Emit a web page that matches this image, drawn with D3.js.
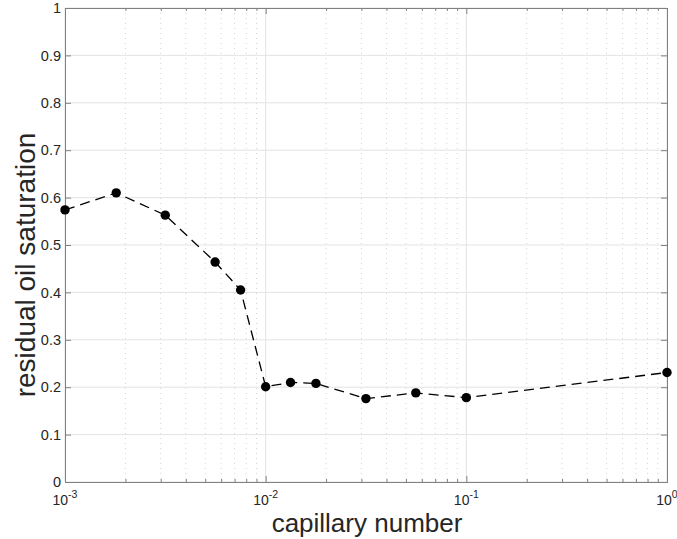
<!DOCTYPE html>
<html><head><meta charset="utf-8">
<script src="https://cdn.jsdelivr.net/npm/d3@7"></script>
<style>body{margin:0;background:#fff;} text{font-family:"Liberation Sans",Arial,Helvetica,sans-serif;}</style>
</head><body>
<svg id="c" width="677" height="539"></svg>
<script>
const capillary = [0.001, 0.0018, 0.00316, 0.0056, 0.0075, 0.01, 0.0133, 0.0178, 0.0316, 0.056, 0.1, 1];
const residualOil = [0.574, 0.610, 0.563, 0.464, 0.405, 0.201, 0.210, 0.208, 0.176, 0.188, 0.178, 0.231];
const yTicks = [0, 0.1, 0.2, 0.3, 0.4, 0.5, 0.6, 0.7, 0.8, 0.9, 1];
const xMajor = [-3, -2, -1, 0];
const xLabel = "capillary number";
const yLabel = "residual oil saturation";

const L = 65, R = 667, T = 8, B = 482;
const svg = d3.select("#c");
const x = d3.scaleLog().domain([1e-3, 1]).range([L, R]);
const y = d3.scaleLinear().domain([0, 1]).range([B, T]);

const minor = [];
for (let e = -3; e < 0; e++) for (let k = 2; k <= 9; k++) minor.push(k * Math.pow(10, e));
const major = xMajor.map(e => Math.pow(10, e));

const g = svg.append("g");
g.selectAll(".ming").data(minor).enter().append("line")
  .attr("x1", d => x(d)).attr("x2", d => x(d)).attr("y1", T).attr("y2", B)
  .attr("stroke", "#d4d4d4").attr("stroke-width", 1).attr("stroke-dasharray", "1,4");
g.selectAll(".majg").data(major).enter().append("line")
  .attr("x1", d => x(d)).attr("x2", d => x(d)).attr("y1", T).attr("y2", B)
  .attr("stroke", "#e3e3e3").attr("stroke-width", 1);
g.selectAll(".yg").data(yTicks).enter().append("line")
  .attr("x1", L).attr("x2", R).attr("y1", d => y(d)).attr("y2", d => y(d))
  .attr("stroke", "#e3e3e3").attr("stroke-width", 1);

const ax = "#808080";
function style(sel){ sel.select(".domain").attr("stroke", ax); sel.selectAll(".tick line").attr("stroke", ax); }
function mk(axisFn, vals, size, tr){
  const s = svg.append("g").attr("transform", tr)
    .call(axisFn.tickValues(vals).tickSize(size).tickSizeOuter(0).tickFormat(""));
  style(s); return s;
}
mk(d3.axisBottom(x), major, -6, `translate(0,${B})`);
mk(d3.axisBottom(x), minor, -3, `translate(0,${B})`);
mk(d3.axisTop(x), major, -6, `translate(0,${T})`);
mk(d3.axisTop(x), minor, -3, `translate(0,${T})`);
mk(d3.axisRight(y), yTicks, -6, `translate(${R},0)`);
const left = svg.append("g").attr("transform", `translate(${L},0)`)
  .call(d3.axisLeft(y).tickValues(yTicks).tickSize(-6).tickSizeOuter(0).tickPadding(4).tickFormat(d3.format("")));
style(left);
left.selectAll("text").attr("font-size", 14.5).attr("fill", "#262626").attr("font-family", "Liberation Sans, Arial, sans-serif");

const xl = svg.append("g");
xMajor.forEach(e => {
  const t = xl.append("text").attr("x", x(Math.pow(10, e))).attr("y", 505)
    .attr("text-anchor", "middle").attr("font-size", 14).attr("fill", "#262626");
  t.append("tspan").text("10");
  t.append("tspan").attr("dy", -7).attr("font-size", 10.5).text(String(e));
});

const line = d3.line().x((d, i) => x(capillary[i])).y(d => y(d));
svg.append("path").datum(residualOil).attr("d", line)
  .attr("fill", "none").attr("stroke", "#000").attr("stroke-width", 1.3).attr("stroke-dasharray", "10,6");
svg.selectAll(".pt").data(residualOil).enter().append("circle")
  .attr("cx", (d, i) => x(capillary[i])).attr("cy", d => y(d)).attr("r", 4.7).attr("fill", "#000");

svg.append("text").attr("x", 367).attr("y", 532).attr("text-anchor", "middle")
  .attr("font-size", 26).attr("fill", "#262626").text(xLabel);
svg.append("text").attr("transform", `translate(35,${265}) rotate(-90)`).attr("text-anchor", "middle")
  .attr("font-size", 28).attr("fill", "#262626").text(yLabel);
</script>
</body></html>
